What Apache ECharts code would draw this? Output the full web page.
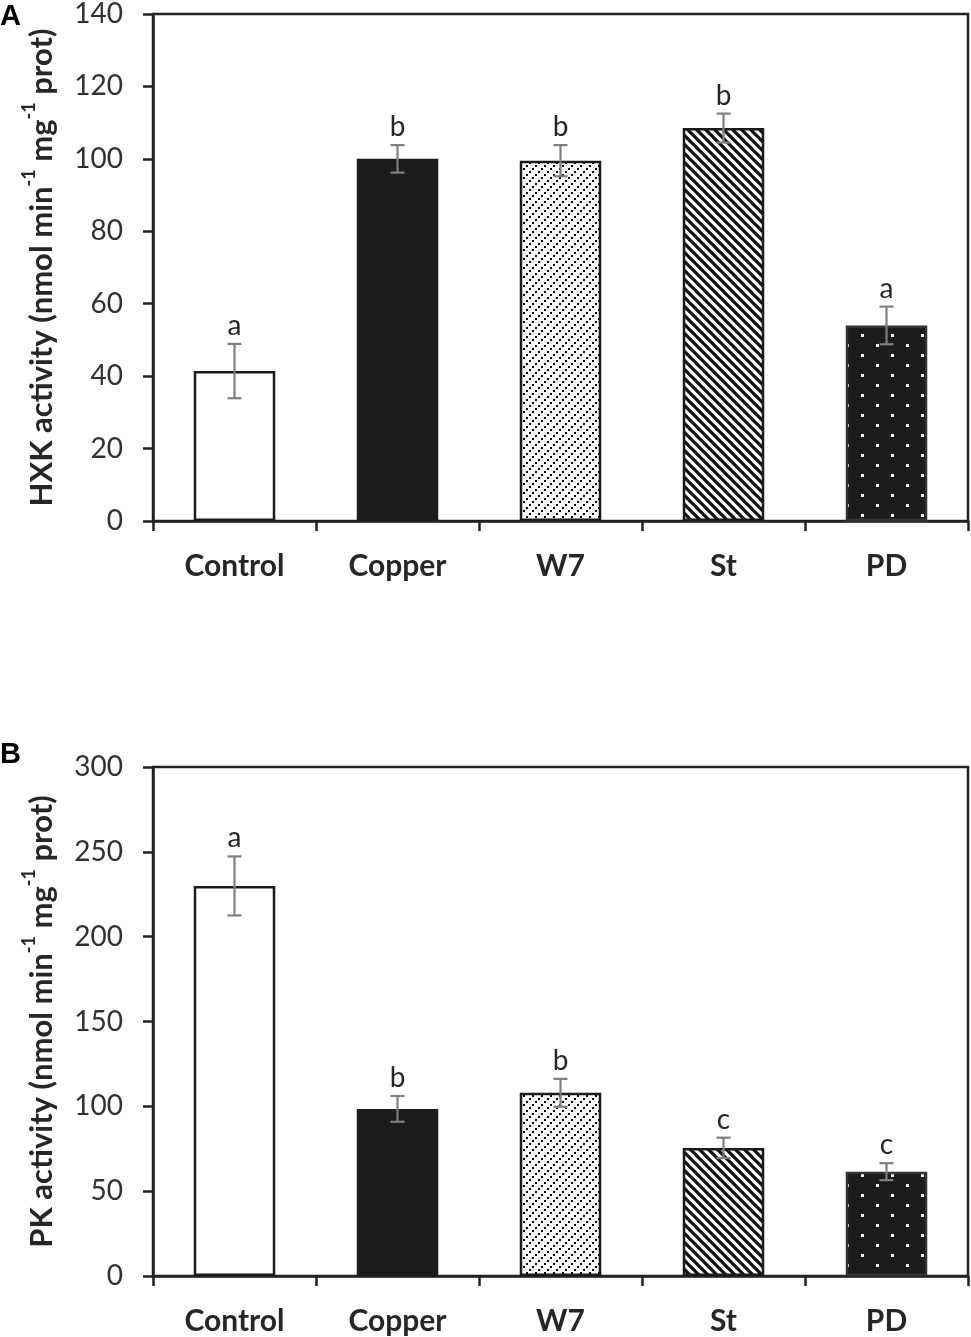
<!DOCTYPE html>
<html><head><meta charset="utf-8">
<script src="https://cdn.jsdelivr.net/npm/echarts@6/dist/echarts.min.js"></script>
<style>html,body{margin:0;padding:0;background:#fff}#c{width:971px;height:1337px}</style>
</head><body><div id="c"></div>
<script>
// ---- data ----
const categories = ['Control', 'Copper', 'W7', 'St', 'PD'];
const hxkMean = [41.4, 100.0, 99.5, 108.5, 54.0];
const hxkErr = [7.5, 3.8, 4.3, 4.0, 5.2];
const hxkLetters = ['a', 'b', 'b', 'b', 'a'];
const pkMean = [229.9, 98.5, 108.0, 75.5, 61.5];
const pkErr = [17.4, 7.6, 8.2, 6.0, 5.0];
const pkLetters = ['a', 'b', 'b', 'c', 'c'];
const hxkAxis = { min: 0, max: 140, interval: 20 };
const pkAxis = { min: 0, max: 300, interval: 50 };

// ---- patterns ----
function makeCanvas(w, h) { const c = document.createElement('canvas'); c.width = w; c.height = h; return c; }
function patW7() {
  const c = makeCanvas(9, 9), g = c.getContext('2d');
  g.fillStyle = '#fff'; g.fillRect(0, 0, 9, 9);
  g.fillStyle = '#000';
  [[1, 6], [4, 3], [7, 0]].forEach(p => g.fillRect(p[0], p[1], 2, 2));
  return { image: c, repeat: 'repeat' };
}
function patSt() {
  const c = makeCanvas(9, 9), g = c.getContext('2d');
  g.fillStyle = '#fff'; g.fillRect(0, 0, 9, 9);
  g.strokeStyle = '#111'; g.lineWidth = 3.3; g.lineCap = 'square';
  g.beginPath();
  g.moveTo(-2, -2); g.lineTo(11, 11);
  g.moveTo(-2, 7); g.lineTo(2, 11);
  g.moveTo(7, -2); g.lineTo(11, 2);
  g.stroke();
  return { image: c, repeat: 'repeat' };
}
function patPD() {
  const c = makeCanvas(30, 20), g = c.getContext('2d');
  g.fillStyle = '#1c1c1c'; g.fillRect(0, 0, 30, 20);
  g.fillStyle = '#f2f2f2';
  g.fillRect(6, 4, 3, 3); g.fillRect(21, 14, 3, 3);
  return { image: c, repeat: 'repeat' };
}
const barStyles = [
  { color: '#ffffff', borderColor: '#1a1a1a', borderWidth: 2.5 },
  { color: '#1c1c1c', borderColor: '#1c1c1c', borderWidth: 2.5 },
  { color: patW7(), borderColor: '#1a1a1a', borderWidth: 2.5 },
  { color: patSt(), borderColor: '#1a1a1a', borderWidth: 2.5 },
  { color: patPD(), borderColor: '#333', borderWidth: 2.5 }
];

const FONT = 'Lato';
const AX = '#222';
const TXT = '#262626';

function yName(prefix) {
  return '{b|' + prefix + ' activity (nmol min}{s|-1}{b| mg}{s|-1}{b| prot)}';
}
const nameRich = {
  b: { fontFamily: FONT, fontWeight: 'bold', fontSize: 31, color: TXT, lineHeight: 37, verticalAlign: 'bottom' },
  s: { fontFamily: FONT, fontWeight: 'bold', fontSize: 18, color: TXT, lineHeight: 18, verticalAlign: 'top' }
};

function xAxisCfg(gi) {
  return {
    type: 'category', gridIndex: gi, data: categories,
    axisLine: { lineStyle: { color: AX, width: 2.5 } },
    axisTick: { show: true, alignWithLabel: false, length: 10, lineStyle: { color: AX, width: 2.5 } },
    axisLabel: { fontFamily: FONT, fontWeight: 'bold', fontSize: 30, color: TXT, margin: 30 }
  };
}
function yAxisCfg(gi, ax, prefix) {
  return {
    type: 'value', gridIndex: gi, min: ax.min, max: ax.max, interval: ax.interval,
    axisLine: { show: true, lineStyle: { color: AX, width: 2.5 } },
    axisTick: { show: true, length: 10, lineStyle: { color: AX, width: 2.5 } },
    splitLine: { show: false },
    axisLabel: { fontFamily: FONT, fontSize: 28, color: '#303030', margin: 30 },
    name: yName(prefix), nameLocation: 'middle', nameRotate: 90, nameGap: 96,
    nameTextStyle: { rich: nameRich }
  };
}
function barSeries(gi, mean) {
  return {
    type: 'bar', xAxisIndex: gi, yAxisIndex: gi, barWidth: '50%',
    data: mean.map((v, i) => ({ value: v, itemStyle: barStyles[i] })),
    silent: true, animation: false
  };
}
function errSeries(gi, mean, err, letters) {
  return {
    type: 'custom', xAxisIndex: gi, yAxisIndex: gi, z: 10, silent: true, animation: false,
    data: mean.map((m, i) => [i, m - err[i], m + err[i]]),
    encode: { x: 0, y: [1, 2] },
    renderItem(params, api) {
      const i = api.value(0);
      const lo = api.coord([i, api.value(1)]);
      const hi = api.coord([i, api.value(2)]);
      const cap = 7;
      const st = { stroke: '#7f7f7f', lineWidth: 2.2 };
      return {
        type: 'group', children: [
          { type: 'line', shape: { x1: lo[0], y1: lo[1], x2: hi[0], y2: hi[1] }, style: st },
          { type: 'line', shape: { x1: lo[0] - cap, y1: lo[1], x2: lo[0] + cap, y2: lo[1] }, style: st },
          { type: 'line', shape: { x1: hi[0] - cap, y1: hi[1], x2: hi[0] + cap, y2: hi[1] }, style: st },
          { type: 'text', x: hi[0], y: hi[1] - 4, style: { text: letters[params.dataIndex], fontFamily: FONT, fontSize: 28, fill: TXT, align: 'center', verticalAlign: 'bottom' } }
        ]
      };
    }
  };
}

const chart = echarts.init(document.getElementById('c'), null, { renderer: 'canvas' });
chart.setOption({
  animation: false,
  backgroundColor: '#fff',
  grid: [
    { left: 153, right: 3, top: 13, height: 508, show: true, borderColor: AX, borderWidth: 2.5, backgroundColor: 'transparent' },
    { left: 153, right: 3, top: 767, height: 509, show: true, borderColor: AX, borderWidth: 2.5, backgroundColor: 'transparent' }
  ],
  xAxis: [xAxisCfg(0), xAxisCfg(1)],
  yAxis: [yAxisCfg(0, hxkAxis, 'HXK'), yAxisCfg(1, pkAxis, 'PK')],
  series: [
    barSeries(0, hxkMean), errSeries(0, hxkMean, hxkErr, hxkLetters),
    barSeries(1, pkMean), errSeries(1, pkMean, pkErr, pkLetters)
  ],
  graphic: [
    { type: 'text', left: 0, top: 2, style: { text: 'A', fontFamily: 'Liberation Sans', fontWeight: 'bold', fontSize: 29, fill: '#000' } },
    { type: 'text', left: 0, top: 740, style: { text: 'B', fontFamily: 'Liberation Sans', fontWeight: 'bold', fontSize: 29, fill: '#000' } }
  ]
});
</script>
</body></html>
